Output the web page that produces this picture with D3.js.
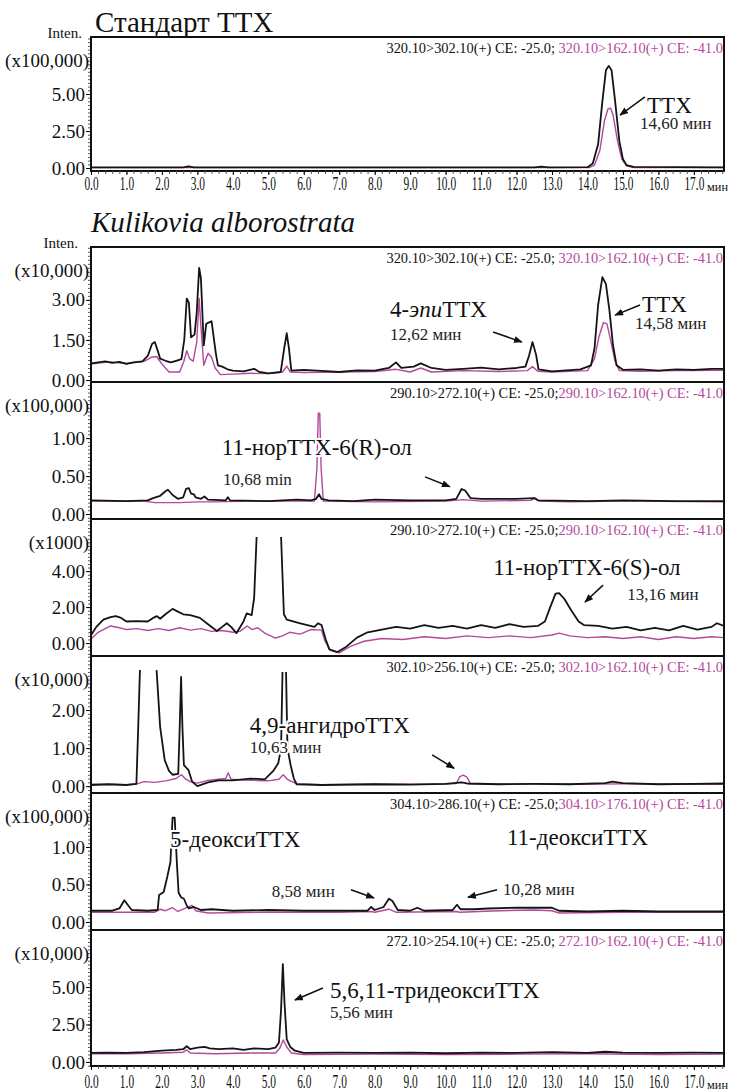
<!DOCTYPE html>
<html>
<head>
<meta charset="utf-8">
<script src="https://cdn.jsdelivr.net/npm/d3@7"></script>
<style>
body { margin: 0; background: #fff; }
</style>
</head>
<body>
<div id="chart"></div>
<script>
// chromatogram data: [time (min), intensity in panel units]
var p1Black = [[0,0.05],[2.6,0.05],[2.75,0.12],[2.9,0.05],[12.5,0.05],[12.7,0.1],[12.9,0.05],[14.0,0.06],[14.15,0.3],[14.3,1.6],[14.42,4.5],[14.52,6.6],[14.6,6.9],[14.68,6.6],[14.78,4.5],[14.9,1.8],[15.0,0.6],[15.1,0.2],[15.3,0.08],[17.85,0.05]];
var p1Pink = [[0,0.03],[14.05,0.03],[14.2,0.2],[14.35,1.2],[14.48,3.2],[14.58,4.0],[14.65,4.05],[14.72,3.6],[14.85,1.8],[14.97,0.6],[15.1,0.15],[15.3,0.04],[17.85,0.03]];

var p2Black = [[0,0.62],[0.2,0.66],[0.4,0.7],[0.6,0.64],[0.8,0.68],[1.0,0.6],[1.2,0.66],[1.45,0.7],[1.6,0.9],[1.72,1.35],[1.8,1.42],[1.88,1.1],[1.95,0.8],[2.1,0.72],[2.25,0.66],[2.4,0.72],[2.55,0.78],[2.63,1.5],[2.7,3.05],[2.76,2.9],[2.82,1.6],[2.92,1.7],[2.98,2.5],[3.05,4.2],[3.1,3.8],[3.18,1.3],[3.25,2.1],[3.32,2.15],[3.4,2.2],[3.46,1.6],[3.52,1.0],[3.58,0.55],[3.7,0.5],[3.85,0.4],[4.0,0.35],[4.3,0.32],[4.6,0.42],[4.75,0.3],[5.0,0.25],[5.35,0.3],[5.45,1.2],[5.52,1.75],[5.58,1.2],[5.65,0.35],[6.0,0.38],[6.5,0.34],[7.0,0.3],[7.5,0.36],[8.0,0.35],[8.4,0.45],[8.6,0.66],[8.75,0.45],[9.1,0.5],[9.3,0.62],[9.6,0.45],[10.0,0.38],[10.5,0.42],[11.0,0.46],[11.5,0.4],[12.0,0.45],[12.25,0.5],[12.35,0.9],[12.45,1.42],[12.55,0.95],[12.62,0.4],[13.0,0.32],[13.4,0.36],[13.8,0.4],[14.1,0.55],[14.2,1.2],[14.3,2.8],[14.42,3.85],[14.52,3.6],[14.62,2.6],[14.72,1.3],[14.82,0.55],[15.0,0.38],[15.5,0.4],[16.0,0.35],[16.5,0.4],[17.0,0.38],[17.5,0.42],[17.85,0.42]];
var p2Pink = [[0,0.6],[0.5,0.68],[1.0,0.62],[1.5,0.7],[1.7,0.85],[1.85,0.88],[2.0,0.6],[2.2,0.3],[2.5,0.3],[2.62,0.7],[2.7,1.1],[2.78,0.8],[2.88,0.7],[2.98,1.4],[3.05,3.05],[3.1,2.0],[3.18,0.55],[3.3,1.0],[3.4,0.85],[3.5,0.45],[3.65,0.2],[4.0,0.22],[4.5,0.25],[5.0,0.24],[5.4,0.3],[5.52,0.52],[5.62,0.3],[6.0,0.28],[7.0,0.3],[8.0,0.32],[8.6,0.4],[9.0,0.3],[9.3,0.45],[9.6,0.3],[10.5,0.35],[11.5,0.32],[12.3,0.35],[12.45,0.5],[12.6,0.33],[13.0,0.3],[14.0,0.35],[14.2,0.8],[14.32,1.6],[14.45,2.15],[14.55,2.1],[14.65,1.5],[14.78,0.7],[14.9,0.35],[15.5,0.33],[16.5,0.35],[17.85,0.36]];

var p3Black = [[0,0.18],[1.0,0.17],[1.6,0.18],[1.75,0.21],[1.95,0.24],[2.1,0.3],[2.17,0.32],[2.3,0.25],[2.45,0.2],[2.6,0.22],[2.68,0.33],[2.76,0.34],[2.82,0.27],[2.9,0.26],[2.95,0.22],[3.1,0.2],[3.2,0.23],[3.3,0.19],[3.8,0.18],[3.86,0.22],[3.92,0.18],[5.0,0.17],[5.8,0.19],[6.2,0.18],[6.35,0.2],[6.43,0.26],[6.5,0.2],[6.7,0.18],[7.4,0.17],[8.0,0.19],[9.0,0.18],[10.0,0.18],[10.3,0.2],[10.45,0.33],[10.55,0.31],[10.7,0.21],[11.0,0.2],[12.0,0.2],[12.5,0.21],[12.6,0.18],[14.0,0.17],[15.0,0.18],[16.5,0.17],[17.85,0.17]];
var p3Pink = [[0,0.17],[1.5,0.17],[1.8,0.15],[2.5,0.15],[3.0,0.16],[3.5,0.16],[4.5,0.17],[5.5,0.17],[6.3,0.17],[6.37,0.6],[6.41,1.33],[6.45,1.33],[6.49,0.6],[6.55,0.17],[8.0,0.16],[10.0,0.17],[10.5,0.19],[11.0,0.17],[12.4,0.18],[12.52,0.21],[12.65,0.17],[13.5,0.16],[15.0,0.17],[17.85,0.16]];

var p4Black = [[0,0.44],[0.15,0.9],[0.35,1.3],[0.55,1.44],[0.7,1.5],[0.85,1.4],[1.0,1.2],[1.3,1.22],[1.6,1.2],[1.75,1.4],[1.86,1.5],[1.95,1.35],[2.1,1.6],[2.3,1.9],[2.45,1.75],[2.6,1.6],[2.8,1.55],[3.07,1.4],[3.3,1.05],[3.55,0.67],[3.7,0.9],[3.83,1.1],[3.95,0.9],[4.1,0.55],[4.3,1.2],[4.39,1.65],[4.53,1.55],[4.6,2.5],[4.67,5.9],[4.68,null],[5.35,null],[5.36,5.9],[5.44,1.6],[5.52,1.3],[5.9,1.1],[6.3,0.9],[6.4,1.1],[6.5,1.0],[6.62,0.2],[6.72,-0.35],[6.95,-0.5],[7.2,-0.2],[7.5,0.3],[7.8,0.6],[8.2,0.75],[8.6,0.9],[9.0,0.8],[9.4,1.0],[9.8,0.85],[10.2,0.95],[10.6,0.8],[11.0,1.0],[11.4,0.85],[11.8,1.05],[12.2,0.9],[12.6,0.95],[12.8,1.2],[12.95,2.0],[13.1,2.75],[13.2,2.78],[13.35,2.45],[13.55,1.8],[13.75,1.2],[13.9,1.0],[14.3,0.95],[14.7,0.8],[15.1,0.9],[15.5,0.7],[15.9,0.85],[16.3,0.7],[16.7,0.95],[17.1,0.75],[17.5,0.9],[17.65,1.1],[17.85,0.95]];
var p4Pink = [[0,0.22],[0.2,0.6],[0.55,0.95],[0.8,0.85],[1.0,0.75],[1.3,0.8],[1.6,0.7],[1.9,0.8],[2.2,0.7],[2.5,0.85],[2.8,0.72],[3.1,0.8],[3.4,0.65],[3.7,0.7],[4.0,0.6],[4.2,0.65],[4.4,0.95],[4.55,0.75],[4.7,0.85],[4.9,0.55],[5.2,0.28],[5.4,0.4],[5.6,0.6],[5.9,0.5],[6.2,0.75],[6.5,0.72],[6.6,0.1],[6.75,-0.4],[7.0,-0.55],[7.3,-0.2],[7.7,0.1],[8.2,0.25],[8.8,0.2],[9.4,0.35],[10.0,0.25],[10.6,0.4],[11.2,0.3],[11.8,0.4],[12.4,0.3],[13.0,0.45],[13.2,0.55],[13.5,0.4],[14.0,0.3],[14.5,0.35],[15.0,0.25],[15.5,0.35],[16.0,0.2],[16.5,0.35],[17.0,0.25],[17.5,0.35],[17.85,0.3]];

var p5Black = [[0,0.03],[0.5,0.05],[1.0,0.03],[1.28,0.06],[1.33,1.5],[1.38,3.05],[1.39,null],[1.84,null],[1.85,3.05],[1.95,1.55],[2.08,0.68],[2.2,0.4],[2.3,0.3],[2.46,0.32],[2.5,1.5],[2.54,2.87],[2.58,1.5],[2.62,0.55],[2.75,0.42],[2.85,0.12],[3.0,0.0],[3.3,0.1],[3.6,0.15],[4.0,0.15],[4.5,0.2],[4.9,0.18],[5.14,0.4],[5.28,0.6],[5.36,1.0],[5.4,3.0],[5.41,null],[5.49,null],[5.5,3.0],[5.54,1.0],[5.63,0.55],[5.72,0.2],[5.8,0.05],[6.5,0.03],[8.0,0.05],[9.0,0.04],[10.0,0.06],[10.45,0.1],[10.6,0.07],[11.5,0.05],[12.5,0.06],[13.5,0.05],[14.5,0.08],[14.7,0.12],[15.0,0.08],[16.0,0.05],[17.0,0.06],[17.85,0.07]];
var p5Pink = [[0,0.05],[1.0,0.04],[1.3,0.06],[1.5,0.12],[1.8,0.1],[2.1,0.14],[2.4,0.2],[2.55,0.3],[2.65,0.2],[2.8,0.12],[3.0,0.08],[3.3,0.15],[3.6,0.18],[3.8,0.2],[3.87,0.35],[3.95,0.18],[4.3,0.16],[4.7,0.15],[5.0,0.14],[5.3,0.18],[5.42,0.3],[5.55,0.17],[5.8,0.06],[6.5,0.04],[8.0,0.05],[9.5,0.05],[10.3,0.07],[10.4,0.25],[10.5,0.29],[10.6,0.24],[10.7,0.06],[11.5,0.05],[12.5,0.06],[13.5,0.05],[15.0,0.06],[16.5,0.05],[17.85,0.05]];

var p6Black = [[0,0.15],[0.6,0.15],[0.8,0.18],[0.94,0.29],[1.05,0.22],[1.15,0.16],[1.6,0.15],[1.88,0.16],[1.92,0.36],[2.05,0.4],[2.15,0.6],[2.24,0.8],[2.3,1.39],[2.36,1.39],[2.42,0.8],[2.47,0.39],[2.54,0.33],[2.62,0.31],[2.7,0.22],[2.76,0.18],[2.9,0.2],[3.1,0.16],[3.4,0.17],[4.0,0.15],[5.0,0.16],[6.0,0.15],[7.0,0.15],[7.8,0.15],[7.9,0.2],[8.0,0.16],[8.25,0.2],[8.4,0.31],[8.5,0.28],[8.65,0.16],[9.0,0.15],[9.2,0.19],[9.4,0.15],[10.2,0.16],[10.32,0.23],[10.42,0.17],[10.8,0.17],[11.2,0.18],[12.0,0.19],[13.0,0.19],[13.2,0.15],[14.0,0.14],[15.0,0.15],[16.0,0.14],[17.85,0.14]];
var p6Pink = [[0,0.13],[1.0,0.13],[1.8,0.13],[1.95,0.17],[2.1,0.15],[2.3,0.19],[2.45,0.14],[2.75,0.2],[2.85,0.22],[2.95,0.15],[3.3,0.12],[5.0,0.13],[7.0,0.13],[7.9,0.14],[8.0,0.13],[8.4,0.17],[8.6,0.13],[10.3,0.14],[10.4,0.13],[11.5,0.15],[12.5,0.16],[13.0,0.15],[13.2,0.12],[15.0,0.13],[17.85,0.13]];

var p7Black = [[0,0.6],[0.5,0.62],[1.0,0.6],[1.5,0.65],[2.0,0.75],[2.4,0.8],[2.6,0.85],[2.7,1.05],[2.8,0.85],[3.0,0.95],[3.2,1.0],[3.35,0.9],[3.6,0.85],[4.0,0.9],[4.3,0.8],[4.6,0.9],[5.0,0.85],[5.2,0.95],[5.3,1.3],[5.36,3.5],[5.41,6.53],[5.46,3.8],[5.52,1.5],[5.62,1.0],[5.75,0.75],[6.0,0.6],[7.0,0.62],[8.0,0.6],[9.0,0.62],[10.0,0.58],[11.0,0.62],[12.0,0.6],[13.0,0.65],[14.0,0.6],[14.5,0.68],[15.0,0.62],[16.0,0.6],[17.0,0.62],[17.85,0.6]];
var p7Pink = [[0,0.55],[1.0,0.55],[2.0,0.6],[2.6,0.65],[2.7,0.8],[2.8,0.6],[3.5,0.55],[4.5,0.6],[5.2,0.6],[5.32,0.9],[5.42,1.47],[5.52,1.0],[5.65,0.6],[6.0,0.5],[8.0,0.52],[10.0,0.5],[12.0,0.52],[14.0,0.55],[16.0,0.5],[17.85,0.52]];

var blackSeries = [p1Black, p2Black, p3Black, p4Black, p5Black, p6Black, p7Black];
var pinkSeries = [p1Pink, p2Pink, p3Pink, p4Pink, p5Pink, p6Pink, p7Pink];

// axes
var timeTicks = d3.range(0, 18, 1);
var multipliers = ["(x100,000)", "(x10,000)", "(x100,000)", "(x1000)", "(x10,000)", "(x100,000)", "(x10,000)"];
var yTicks = [[0, 2.5, 5], [0, 1.5, 3], [0, 0.5, 1], [0, 2, 4], [0, 1, 2], [0, 0.5, 1], [0, 2.5, 5]];
var yDomains = [[-0.2, 8.85], [-0.075, 4.98], [-0.066, 1.74], [-0.72, 6.9], [-0.18, 3.42], [-0.107, 1.72], [-0.27, 8.8]];

// MRM transition headers
var headersBlack = ["320.10>302.10(+) CE: -25.0; ", "320.10>302.10(+) CE: -25.0; ", "290.10>272.10(+) CE: -25.0;", "290.10>272.10(+) CE: -25.0;", "302.10>256.10(+) CE: -25.0; ", "304.10>286.10(+) CE: -25.0;", "272.10>254.10(+) CE: -25.0; "];
var headersPink = ["320.10>162.10(+) CE: -41.0", "320.10>162.10(+) CE: -41.0", "290.10>162.10(+) CE: -41.0", "290.10>162.10(+) CE: -41.0", "302.10>162.10(+) CE: -41.0", "304.10>176.10(+) CE: -41.0", "272.10>162.10(+) CE: -41.0"];

// peak names: [panel, time, intensity, text]  (_..._ = italic)
var peakNames = [
    [0, 15.68, 3.72, "ТТХ"],
    [1, 8.43, 2.36, "4-_эпи_ТТХ"],
    [1, 15.54, 2.55, "ТТХ"],
    [2, 3.69, 0.78, "11-норТТХ-6(R)-ол"],
    [3, 11.34, 3.78, "11-норТТХ-6(S)-ол"],
    [4, 4.48, 1.39, "4,9-ангидроТТХ"],
    [5, 2.23, 1.0, "5-деоксиТТХ"],
    [5, 11.73, 1.03, "11-деоксиТТХ"],
    [6, 6.74, 4.27, "5,6,11-тридеоксиТТХ"]
];
var peakTimes = [
    [0, 15.48, 2.62, "14,60 мин"],
    [1, 8.43, 1.50, "12,62 мин"],
    [1, 15.34, 1.9, "14,58 мин"],
    [2, 3.72, 0.38, "10,68 min"],
    [3, 15.12, 2.39, "13,16 мин"],
    [4, 4.48, 0.87, "10,63 мин"],
    [5, 5.10, 0.33, "8,58 мин"],
    [5, 11.62, 0.36, "10,28 мин"],
    [6, 6.74, 2.93, "5,56 мин"]
];
// arrows: [panel, t1, v1, t2, v2]
var arrows = [
    [0, 15.62, 4.8, 14.92, 3.58],
    [1, 11.34, 1.80, 12.15, 1.42],
    [1, 15.48, 2.81, 14.78, 2.43],
    [2, 9.42, 0.49, 10.12, 0.36],
    [3, 14.44, 3.22, 13.93, 2.28],
    [4, 9.62, 0.82, 10.24, 0.47],
    [5, 7.33, 0.43, 7.98, 0.32],
    [5, 11.45, 0.43, 10.63, 0.33],
    [6, 6.54, 4.93, 5.75, 4.13]
];

var w = 730, h = 1091;
var left = 91, right = 724;
var panelTop = [37, 247, 382, 519, 656, 793, 930];
var panelBottom = [171, 382, 519, 656, 793, 930, 1066];
var blackColor = "#141414", pinkColor = "#b4489c";
var serif = "Liberation Serif";

var svg = d3.select("#chart").append("svg")
    .attr("width", w)
    .attr("height", h)
    .attr("font-family", serif);

var defs = svg.append("defs");
defs.append("marker")
    .attr("id", "head")
    .attr("viewBox", "0 0 10 8")
    .attr("refX", 9).attr("refY", 4)
    .attr("markerWidth", 9).attr("markerHeight", 7)
    .attr("markerUnits", "userSpaceOnUse")
    .attr("orient", "auto")
    .append("path").attr("d", "M0,0 L10,4 L0,8 Z").attr("fill", "#111");

var xScale = d3.scaleLinear().domain([0, 17.85]).range([left, right]);

// titles
svg.append("text").attr("x", 95).attr("y", 32).attr("font-family", serif)
    .attr("font-size", 29).attr("fill", "#111").text("Стандарт ТТХ");
svg.append("text").attr("x", 91).attr("y", 232).attr("font-family", serif)
    .attr("font-size", 29).attr("font-style", "italic").attr("fill", "#111").text("Kulikovia alborostrata");
[0, 1].forEach(function (i) {
    svg.append("text").attr("x", i == 0 ? 82 : 78).attr("y", panelTop[i] + 1).attr("font-family", serif)
        .attr("text-anchor", "end").attr("font-size", 15).attr("fill", "#111").text("Inten.");
});

var scales = [];

for (var i = 0; i < 7; i++) {
    var yTop = panelTop[i], yBot = panelBottom[i];
    var yScale = d3.scaleLinear().domain(yDomains[i]).range([yBot, yTop]);
    scales.push(yScale);

    var g = svg.append("g");

    defs.append("clipPath").attr("id", "clip" + i)
        .append("rect").attr("x", left).attr("y", yTop)
        .attr("width", right - left).attr("height", yBot - yTop);

    // traces
    var line = d3.line()
        .defined(function (d) { return d[1] !== null; })
        .x(function (d) { return xScale(d[0]); })
        .y(function (d) { return yScale(d[1]); });

    var traces = g.append("g").attr("clip-path", "url(#clip" + i + ")");
    traces.append("path").datum(pinkSeries[i])
        .attr("d", line).attr("fill", "none")
        .attr("stroke", pinkColor).attr("stroke-width", 1.4).attr("stroke-linejoin", "round");
    traces.append("path").datum(blackSeries[i])
        .attr("d", line).attr("fill", "none")
        .attr("stroke", blackColor).attr("stroke-width", 1.8).attr("stroke-linejoin", "round");

    // y axis, major + minor ticks
    var step = yTicks[i][1] - yTicks[i][0];
    var minor = d3.range(0, yDomains[i][1], step / 10).concat(d3.range(-step / 10, yDomains[i][0], -step / 10));
    var yMinor = d3.axisLeft(yScale).tickValues(minor).tickSize(3).tickFormat("");
    g.append("g").attr("transform", "translate(" + left + ",0)").call(yMinor)
        .call(function (s) { s.select(".domain").remove(); })
        .selectAll("line").attr("stroke", "#555");

    var yAxis = d3.axisLeft(yScale).tickValues(yTicks[i]).tickSize(5).tickPadding(1)
        .tickFormat(d3.format(".2f"));
    var ya = g.append("g").attr("transform", "translate(" + left + ",0)").call(yAxis)
        .attr("font-family", serif);
    ya.select(".domain").remove();
    ya.selectAll("text").attr("font-size", 19).attr("font-family", serif).attr("fill", "#111");

    g.append("text").attr("x", 89).attr("y", yTop + 30).attr("font-family", serif)
        .attr("text-anchor", "end").attr("font-size", 19).attr("fill", "#111").text(multipliers[i]);

    // header with transitions
    var hd = g.append("text").attr("font-size", 15).attr("font-family", serif)
        .attr("text-anchor", "end")
        .attr("transform", "translate(" + (right - 1) + "," + (yTop + 16) + ") scale(0.96,1)");
    hd.append("tspan").attr("fill", "#111").text(headersBlack[i]);
    hd.append("tspan").attr("fill", pinkColor).text(headersPink[i]);

    // frame
    g.append("rect").attr("x", left).attr("y", yTop)
        .attr("width", right - left).attr("height", yBot - yTop)
        .attr("fill", "none").attr("stroke", "#111").attr("stroke-width", 2);
}

// x axes (standard panel and bottom panel)
[[0, 2], [6, 5]].forEach(function (a) {
    var y0 = panelBottom[a[0]];
    var xMinor = d3.axisBottom(xScale).tickValues(d3.range(0, 17.9, 0.2)).tickSize(3).tickFormat("");
    svg.append("g").attr("transform", "translate(0," + y0 + ")").call(xMinor)
        .call(function (s) { s.select(".domain").remove(); })
        .selectAll("line").attr("stroke", "#555");
    var xAxis = d3.axisBottom(xScale).tickValues(timeTicks).tickSize(4).tickPadding(a[1])
        .tickFormat(d3.format(".1f"));
    var xa = svg.append("g").attr("transform", "translate(0," + y0 + ")").call(xAxis)
        .attr("font-family", serif);
    xa.select(".domain").remove();
    xa.selectAll("text").attr("font-size", 19).attr("font-family", serif)
        .attr("fill", "#111").attr("transform", "scale(0.6,1)");
    svg.append("text").attr("x", 707).attr("y", y0 + a[1] + 18).attr("font-family", serif)
        .attr("font-size", 13).attr("fill", "#111").text("мин")
        .attr("textLength", 21).attr("lengthAdjust", "spacingAndGlyphs");
});

// annotations
peakNames.forEach(function (d) {
    var t = svg.append("text")
        .attr("x", xScale(d[1])).attr("y", scales[d[0]](d[2]))
        .attr("font-family", serif)
        .attr("font-size", 23).attr("fill", "#111")
        .attr("stroke", "#fff").attr("stroke-width", 4).attr("paint-order", "stroke");
    d[3].split("_").forEach(function (part, k) {
        t.append("tspan").attr("font-style", k % 2 ? "italic" : "normal").text(part);
    });
});
peakTimes.forEach(function (d) {
    svg.append("text")
        .attr("x", xScale(d[1])).attr("y", scales[d[0]](d[2]))
        .attr("font-family", serif)
        .attr("font-size", 17).attr("fill", "#222")
        .attr("stroke", "#fff").attr("stroke-width", 4).attr("paint-order", "stroke")
        .text(d[3]);
});
svg.selectAll(".arrow").data(arrows).enter().append("line")
    .attr("class", "arrow")
    .attr("x1", function (d) { return xScale(d[1]); })
    .attr("y1", function (d) { return scales[d[0]](d[2]); })
    .attr("x2", function (d) { return xScale(d[3]); })
    .attr("y2", function (d) { return scales[d[0]](d[4]); })
    .attr("stroke", "#111").attr("stroke-width", 1.5)
    .attr("marker-end", "url(#head)");
</script>
</body>
</html>
